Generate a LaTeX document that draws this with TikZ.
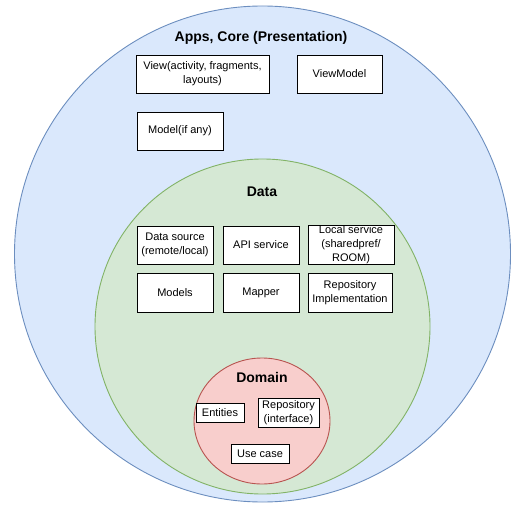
\documentclass[tikz,border=0pt]{standalone}
\usepackage{fontspec}
\setmainfont{Liberation Sans}
\usetikzlibrary{positioning, shapes.geometric}
\definecolor{appsfill}{HTML}{DAE8FC}
\definecolor{appsline}{HTML}{6C8EBF}
\definecolor{datafill}{HTML}{D5E8D4}
\definecolor{dataline}{HTML}{82B366}
\definecolor{domainfill}{HTML}{F8CECC}
\definecolor{domainline}{HTML}{B85450}

\begin{document}
\begin{tikzpicture}[x=1pt, y=-1pt,
    box/.style={draw=black, fill=white, line width=0.9pt, inner sep=0pt, align=center,
                minimum height=38pt, font=\fontsize{11}{14}\selectfont},
    layertitle/.style={font=\fontsize{14}{16}\selectfont\bfseries}]
  \useasboundingbox (0,0) rectangle (526,518);
  % Layers
  \node[circle, draw=appsline, fill=appsfill, line width=0.9pt, minimum size=496pt,
        inner sep=0pt] (apps) at (262.5,254) {};
  \node[circle, draw=dataline, fill=datafill, line width=0.9pt, minimum size=335pt,
        inner sep=0pt] (data) at (262.5,326.5) {};
  \node[ellipse, draw=domainline, fill=domainfill, line width=0.9pt, minimum width=136pt,
        minimum height=126pt, inner sep=0pt] (domain) at (262,421) {};
  % Presentation
  \node[layertitle] (appstitle) at (261,38) {Apps, Core (Presentation)};
  \node[box, minimum width=133pt] (view) at (202.5,74) {View(activity, fragments,\\layouts)};
  \node[box, minimum width=85pt] (viewmodel) at (339.5,74) {ViewModel};
  \node[box, minimum width=86pt] (model) at (180,131) {Model(if any)};
  % Data
  \node[layertitle] (datatitle) at (262,192) {Data};
  \node[box, minimum width=76pt] (datasource) at (175,245) {Data source\\(remote/local)};
  \node[box, minimum width=76pt] (apiservice) at (261,245) {API service};
  \node[box, minimum width=86pt] (localservice) at (351,245) {Local service\\(sharedpref/\\ROOM)};
  \node[box, minimum width=76pt, minimum height=39pt] (models) at (175,292.5) {Models};
  \node[box, minimum width=76pt, minimum height=39pt] (mapper) at (261,292.5) {Mapper};
  \node[box, minimum width=84pt, minimum height=39pt] (repoimpl) at (350,292.5) {Repository\\Implementation};
  % Domain
  \node[layertitle] (domaintitle) at (262,377) {Domain};
  \node[box, minimum width=48pt, minimum height=19pt] (entities) at (220,412.5) {Entities};
  \node[box, minimum width=61pt, minimum height=29pt] (repointerface) at (288.5,412.5) {Repository\\(interface)};
  \node[box, minimum width=58pt, minimum height=19pt] (usecase) at (260,453.5) {Use case};
\end{tikzpicture}
\end{document}
